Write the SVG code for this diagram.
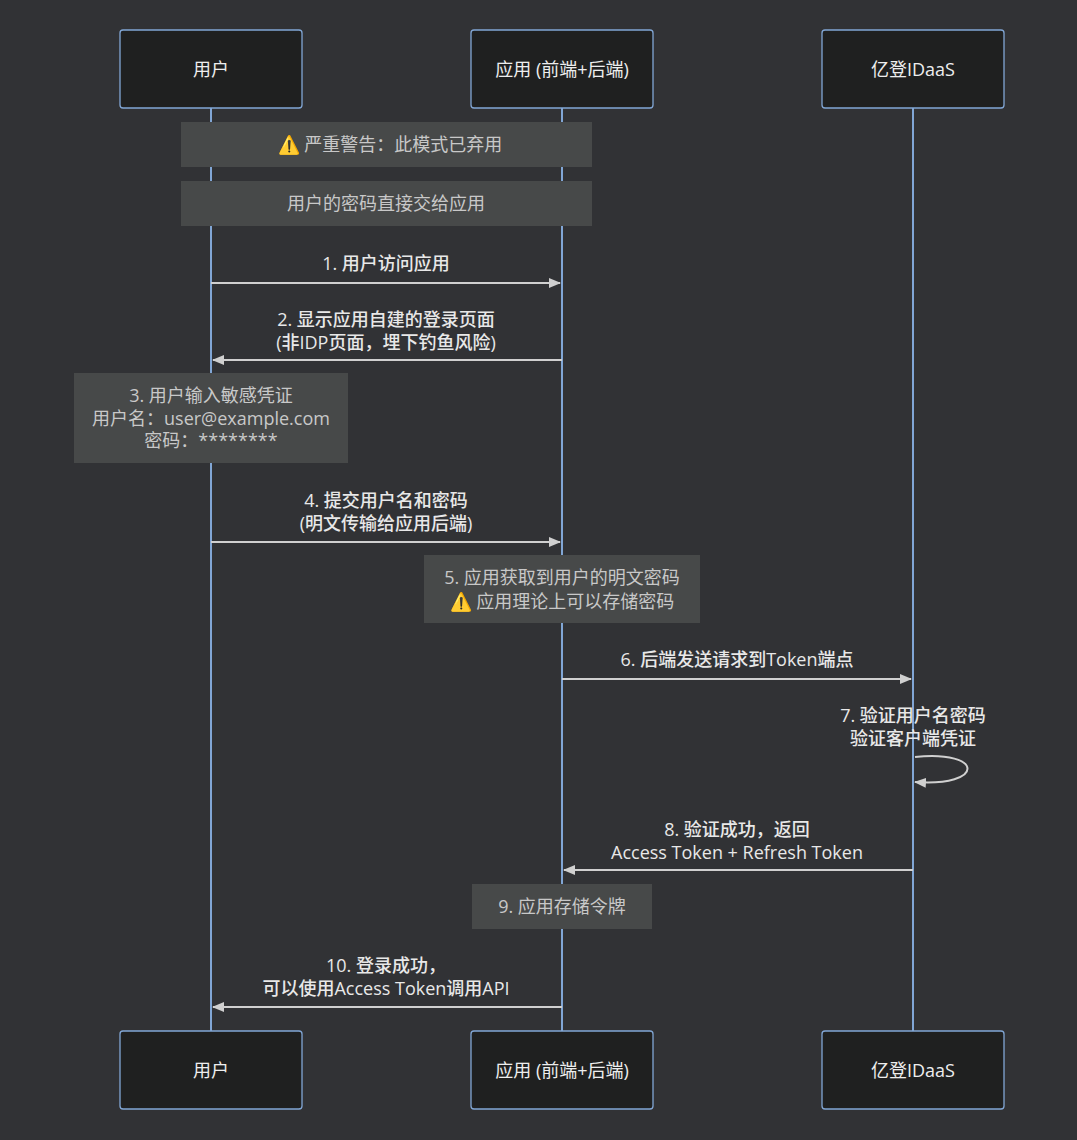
<svg xmlns="http://www.w3.org/2000/svg" width="1077" height="1140" viewBox="0 0 1077 1140">
<style>
text{font-family:"Open Sans","Noto Sans CJK SC",sans-serif;font-size:18px;text-anchor:middle}
.actor rect{fill:#1f2020;stroke:#81a6d5;stroke-width:1.3}
.actor text{fill:#eeeeee}
.life{stroke:#81a6d5;stroke-width:2}
.note rect{fill:#474949}
.note text{fill:#c8c8c8}
.msg{stroke:#d0d0d0;stroke-width:2;fill:none}
.ml{fill:#e8e8e8;font-weight:500}
</style>
<defs>
<marker id="ah" viewBox="0 0 12 10" refX="11" refY="5" markerWidth="12" markerHeight="10" markerUnits="userSpaceOnUse" orient="auto"><path d="M0,0L12,5L0,10z" fill="#d0d0d0"/></marker>
</defs>
<rect width="1077" height="1140" fill="#313235"/>
<g id="lifelines">
<line class="life" x1="211" y1="108" x2="211" y2="1031"/>
<line class="life" x1="562" y1="108" x2="562" y2="1031"/>
<line class="life" x1="913" y1="108" x2="913" y2="1031"/>
</g>
<g id="user-top" class="actor"><rect x="120" y="30" width="182" height="78" rx="3"/><text x="211" y="76">用户</text></g>
<g id="app-top" class="actor"><rect x="471" y="30" width="182" height="78" rx="3"/><text x="562" y="76">应用 (前端+后端)</text></g>
<g id="idaas-top" class="actor"><rect x="822" y="30" width="182" height="78" rx="3"/><text x="913" y="76">亿登IDaaS</text></g>
<g id="user-bottom" class="actor"><rect x="120" y="1031" width="182" height="78" rx="3"/><text x="211" y="1077">用户</text></g>
<g id="app-bottom" class="actor"><rect x="471" y="1031" width="182" height="78" rx="3"/><text x="562" y="1077">应用 (前端+后端)</text></g>
<g id="idaas-bottom" class="actor"><rect x="822" y="1031" width="182" height="78" rx="3"/><text x="913" y="1077">亿登IDaaS</text></g>
<g id="note-warning" class="note"><rect x="181" y="122" width="411" height="45"/><text x="390" y="151">⚠️ 严重警告：此模式已弃用</text></g>
<g id="note-password" class="note"><rect x="181" y="181" width="411" height="45"/><text x="386" y="210">用户的密码直接交给应用</text></g>
<g id="note-3" class="note"><rect x="74" y="373" width="274" height="90"/><text x="211" y="402">3. 用户输入敏感凭证</text><text x="211" y="425">用户名：user@example.com</text><text x="211" y="447">密码：********</text></g>
<g id="note-5" class="note"><rect x="424" y="555" width="276" height="68"/><text x="562" y="584">5. 应用获取到用户的明文密码</text><text x="562" y="608">⚠️ 应用理论上可以存储密码</text></g>
<g id="note-9" class="note"><rect x="472" y="884" width="180" height="45"/><text x="562" y="913">9. 应用存储令牌</text></g>
<g id="connectors">
<line class="msg" x1="211" y1="283" x2="560" y2="283" marker-end="url(#ah)"/>
<text class="ml" x="386" y="270">1. 用户访问应用</text>
<line class="msg" x1="562" y1="360" x2="213" y2="360" marker-end="url(#ah)"/>
<text class="ml" x="386" y="326">2. 显示应用自建的登录页面</text>
<text class="ml" x="386" y="349">(非IDP页面，埋下钓鱼风险)</text>
<line class="msg" x1="211" y1="542" x2="560" y2="542" marker-end="url(#ah)"/>
<text class="ml" x="386" y="507">4. 提交用户名和密码</text>
<text class="ml" x="386" y="530">(明文传输给应用后端)</text>
<line class="msg" x1="562" y1="679" x2="911" y2="679" marker-end="url(#ah)"/>
<text class="ml" x="737" y="666">6. 后端发送请求到Token端点</text>
<path class="msg" d="M915,757 C985,750 985,787 915,782" marker-end="url(#ah)"/>
<text class="ml" x="913" y="722">7. 验证用户名密码</text>
<text class="ml" x="913" y="745">验证客户端凭证</text>
<line class="msg" x1="913" y1="870" x2="564" y2="870" marker-end="url(#ah)"/>
<text class="ml" x="737" y="836">8. 验证成功，返回</text>
<text class="ml" x="737" y="859">Access Token + Refresh Token</text>
<line class="msg" x1="562" y1="1007" x2="213" y2="1007" marker-end="url(#ah)"/>
<text class="ml" x="386" y="972">10. 登录成功，</text>
<text class="ml" x="386" y="995">可以使用Access Token调用API</text>
</g>
</svg>
